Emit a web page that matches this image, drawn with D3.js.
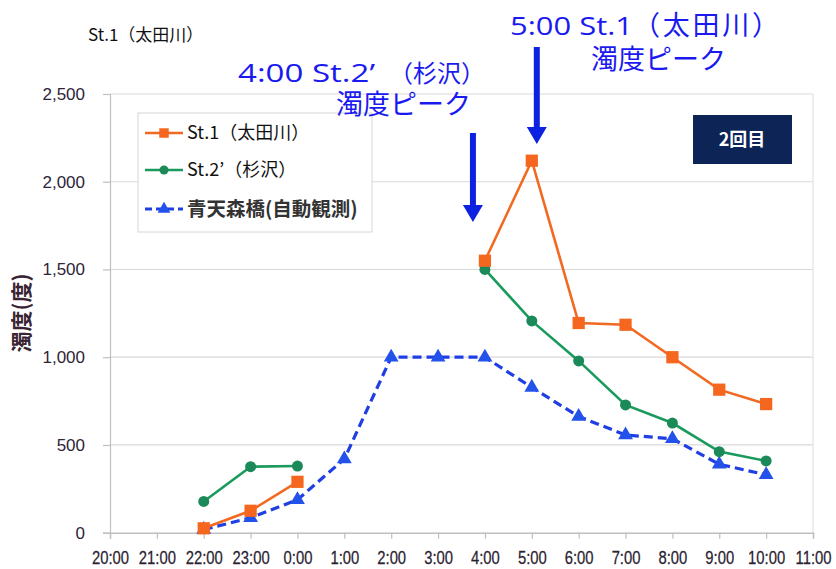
<!DOCTYPE html>
<html>
<head>
<meta charset="utf-8">
<script src="https://cdn.jsdelivr.net/npm/d3@7"></script>
<style>
  html, body { margin: 0; padding: 0; background: #fff; }
  svg { display: block; }
</style>
</head>
<body>
<svg id="chart" width="836" height="569"></svg>
<script>
// Hourly time labels along the x axis
const hours = ["20:00","21:00","22:00","23:00","0:00","1:00","2:00","3:00","4:00","5:00","6:00","7:00","8:00","9:00","10:00","11:00"];
// Y axis tick values
const yTicks = [0, 500, 1000, 1500, 2000, 2500];

// Turbidity (degrees) per hour; null = no measurement
const st1 = [null, null, 25, 125, 290, null, null, null, 1550, 2120, 1195, 1185, 1000, 815, 733, null];
const st2 = [null, null, 178, 376, 380, null, null, null, 1500, 1207, 979, 728, 625, 462, 409, null];
const aomori = [null, null, 18, 85, 188, 420, 1000, 1000, 1000, 828, 662, 557, 535, 390, 330, null];

const seriesNames = ["St.1（太田川）", "St.2’（杉沢）", "青天森橋(自動観測)"];

const svg = d3.select("#chart");
const plot = { left: 110, right: 813, top: 94, bottom: 532.7 };

const x = d3.scaleLinear().domain([0, hours.length - 1]).range([plot.left, plot.right]);
const y = d3.scaleLinear().domain([0, 2500]).range([plot.bottom, plot.top]);

const numFont = "'Liberation Sans', Arial, sans-serif";
const jpFont = "'Noto Sans CJK JP', 'Noto Sans', sans-serif";
const latinFont = "'Open Sans', 'Noto Sans', sans-serif";

// Horizontal gridlines
svg.append("g").selectAll("line")
  .data(yTicks.filter(d => d > 0))
  .join("line")
  .attr("x1", plot.left).attr("x2", plot.right)
  .attr("y1", d => y(d)).attr("y2", d => y(d))
  .attr("stroke", "#d9d9d9").attr("stroke-width", 1.2);

// Right border of plot area
svg.append("line")
  .attr("x1", plot.right).attr("x2", plot.right)
  .attr("y1", plot.top).attr("y2", plot.bottom)
  .attr("stroke", "#e2e2e2").attr("stroke-width", 1.2);

// Y axis
const yAxis = d3.axisLeft(y).tickValues(yTicks).tickSize(7).tickPadding(18)
  .tickFormat(d3.format(","));
const gy = svg.append("g").attr("transform", `translate(${plot.left},0)`).call(yAxis);
gy.select(".domain").attr("stroke", "#bfbfbf").attr("stroke-width", 1.2);
gy.selectAll(".tick line").attr("stroke", "#bfbfbf").attr("stroke-width", 1.2);
gy.selectAll(".tick text")
  .attr("font-family", numFont).attr("font-size", 17).attr("fill", "#2e2436");

// X axis (condensed labels)
const xAxis = d3.axisBottom(x).tickValues(d3.range(hours.length)).tickSize(6).tickPadding(12)
  .tickFormat(i => hours[i]);
const gx = svg.append("g").attr("transform", `translate(0,${plot.bottom})`).call(xAxis);
gx.select(".domain").attr("stroke", "#bfbfbf").attr("stroke-width", 1.4);
gx.selectAll(".tick line").attr("stroke", "#bfbfbf").attr("stroke-width", 1.2);
gx.selectAll(".tick text")
  .attr("font-family", numFont).attr("font-size", 19).attr("fill", "#2a2230")
  .attr("stroke", "#2a2230").attr("stroke-width", 0.25)
  .attr("transform", "scale(0.78,1)");

// Y axis title
svg.append("text")
  .attr("transform", `translate(29,313) rotate(-90)`)
  .attr("text-anchor", "middle")
  .attr("font-family", jpFont).attr("font-weight", "bold").attr("font-size", 21)
  .attr("fill", "#3a2433")
  .text("濁度(度)");

// Chart title
svg.append("text")
  .attr("x", 88).attr("y", 41)
  .attr("font-family", jpFont).attr("font-size", 17).attr("fill", "#111")
  .text("St.1（太田川）");

// Series
const colors = { st1: "#f26a22", st2: "#1a9a5c", aomori: "#1f3fe4" };
const line = d3.line()
  .defined(d => d.v != null)
  .x(d => x(d.i)).y(d => y(d.v));
const toPts = arr => arr.map((v, i) => ({ i, v }));

const tri = d3.symbol().type(d3.symbolTriangle).size(95);
const sq = d3.symbol().type(d3.symbolSquare).size(150);

// 青天森橋 (dashed, triangles)
svg.append("path").datum(toPts(aomori))
  .attr("d", line).attr("fill", "none")
  .attr("stroke", colors.aomori).attr("stroke-width", 3.2)
  .attr("stroke-dasharray", "9,5");
// St.2' (green, circles)
svg.append("path").datum(toPts(st2))
  .attr("d", line).attr("fill", "none")
  .attr("stroke", colors.st2).attr("stroke-width", 2.6);
// St.1 (orange, squares)
svg.append("path").datum(toPts(st1))
  .attr("d", line).attr("fill", "none")
  .attr("stroke", colors.st1).attr("stroke-width", 2.6);

svg.append("g").selectAll("path")
  .data(toPts(aomori).filter(d => d.v != null))
  .join("path")
  .attr("transform", d => `translate(${x(d.i)},${y(d.v)})`)
  .attr("d", tri).attr("fill", "#2352ea");

svg.append("g").selectAll("circle")
  .data(toPts(st2).filter(d => d.v != null))
  .join("circle")
  .attr("cx", d => x(d.i)).attr("cy", d => y(d.v)).attr("r", 5.5)
  .attr("fill", "#1b8a58");

svg.append("g").selectAll("path")
  .data(toPts(st1).filter(d => d.v != null))
  .join("path")
  .attr("transform", d => `translate(${x(d.i)},${y(d.v)})`)
  .attr("d", sq).attr("fill", "#f5661f");

// Legend
const lg = svg.append("g");
lg.append("rect")
  .attr("x", 138).attr("y", 113).attr("width", 234).attr("height", 119)
  .attr("fill", "#fff").attr("stroke", "#d6d6d6").attr("stroke-width", 1);
const legendRows = [
  { name: seriesNames[0], color: colors.st1, mark: "sq", dash: null, y: 133, size: 18, weight: "normal", fill: "#111" },
  { name: seriesNames[1], color: colors.st2, mark: "circle", dash: null, y: 170, size: 18, weight: "normal", fill: "#111" },
  { name: seriesNames[2], color: colors.aomori, mark: "tri", dash: "7,4", y: 209, size: 19.5, weight: "bold", fill: "#333" }
];
legendRows.forEach(r => {
  lg.append("line")
    .attr("x1", 145).attr("x2", 183).attr("y1", r.y).attr("y2", r.y)
    .attr("stroke", r.color).attr("stroke-width", r.mark === "tri" ? 3 : 2.6)
    .attr("stroke-dasharray", r.dash);
  if (r.mark === "sq") {
    lg.append("path").attr("transform", `translate(164,${r.y})`)
      .attr("d", d3.symbol().type(d3.symbolSquare).size(90)).attr("fill", "#f5661f");
  } else if (r.mark === "circle") {
    lg.append("circle").attr("cx", 164).attr("cy", r.y).attr("r", 4.5).attr("fill", "#1b8a58");
  } else {
    lg.append("path").attr("transform", `translate(164,${r.y})`)
      .attr("d", d3.symbol().type(d3.symbolTriangle).size(70)).attr("fill", "#2352ea");
  }
  lg.append("text")
    .attr("x", 187).attr("y", r.y).attr("dy", "0.36em")
    .attr("font-family", jpFont).attr("font-size", r.size).attr("font-weight", r.weight)
    .attr("fill", r.fill)
    .text(r.name);
});

// "2回目" badge
svg.append("rect")
  .attr("x", 693).attr("y", 115).attr("width", 99).attr("height", 49)
  .attr("fill", "#0c2456");
svg.append("text")
  .attr("x", 742).attr("y", 140).attr("dy", "0.36em")
  .attr("text-anchor", "middle")
  .attr("font-family", jpFont).attr("font-weight", "bold").attr("font-size", 18)
  .attr("fill", "#fff")
  .text("2回目");

// Peak annotations with downward arrows
const annBlue = "#1a1af0";
const arrowBlue = "#0c22e0";
function arrow(xPos, y0, y1) {
  svg.append("line")
    .attr("x1", xPos).attr("x2", xPos).attr("y1", y0).attr("y2", y1 - 14)
    .attr("stroke", arrowBlue).attr("stroke-width", 6);
  svg.append("path")
    .attr("d", `M${xPos - 10},${y1 - 17} L${xPos + 10},${y1 - 17} L${xPos},${y1} Z`)
    .attr("fill", arrowBlue);
}
// Heading line: wide Latin part followed by the station name in Japanese
function heading(latin, latinX, latinLen, jp, jpX, jpSize, jpLen, baseY) {
  const t = svg.append("text").attr("y", baseY).attr("fill", annBlue);
  t.append("tspan")
    .attr("x", latinX)
    .attr("font-family", latinFont).attr("font-size", 25)
    .attr("textLength", latinLen).attr("lengthAdjust", "spacingAndGlyphs")
    .text(latin);
  const jpSpan = t.append("tspan")
    .attr("x", jpX)
    .attr("font-family", jpFont).attr("font-size", jpSize)
    .text(jp);
  if (jpLen) jpSpan.attr("textLength", jpLen).attr("lengthAdjust", "spacing");
}
function subline(txt, xPos, yPos) {
  svg.append("text")
    .attr("x", xPos).attr("y", yPos)
    .attr("font-family", jpFont).attr("font-size", 27).attr("fill", annBlue)
    .text(txt);
}
// St.2' peak at 4:00
heading("4:00 St.2’", 238, 137, "（杉沢）", 389, 24, null, 82);
subline("濁度ピーク", 336, 114);
arrow(x(8) - 12, 133, 222);
// St.1 peak at 5:00
heading("5:00 St.1", 510, 123, "（太田川）", 633, 27, 146, 35);
subline("濁度ピーク", 591, 69);
arrow(x(9) + 5, 47, 144);
</script>
</body>
</html>
